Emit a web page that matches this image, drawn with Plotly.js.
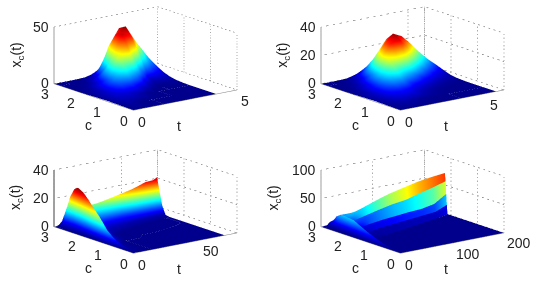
<!DOCTYPE html>
<html><head><meta charset="utf-8">
<script src="https://cdn.plot.ly/plotly-3.0.1.min.js"></script>
<style>html,body{margin:0;padding:0;background:#fff;width:541px;height:286px;overflow:hidden}#g{position:absolute;left:-250px;top:-250px;width:1041px;height:786px}</style>
</head><body><div id="g"></div>
<script>
const c1=[0,.5,1,1.25,1.5,1.75,2,2.25,2.5,2.75,3];
const t1=[0,.5,1,1.5,2,2.5,3,3.5,4];
const z1ByT=[
[.1,.4,.6,.5,.4,.2,.1,0,0,0,0],
[.2,1.3,3.3,3.6,3,2,1,.4,.1,0,0],
[0,.1,3.8,9,12,10,5.9,2.4,.7,.2,0],
[0,0,2.1,9,21,28,23.5,13.7,5.6,1.7,.4],
[0,0,.4,3.4,14.4,33.8,45,42,30,11,2.7],
[0,0,0,.5,3.6,15.2,40,47.5,44,24,9.5],
[0,0,0,0,.4,2.8,16,32,37,31,18],
[0,0,0,.2,.8,3,8.1,16.2,24.3,26.8,20],
[0,0,0,.2,.7,1.8,4,7.4,11,13.2,13]];
const c2=c1;
const t2=[0,.5,1,1.5,2,2.5,3,3.5,4,4.5,5,5.5];
const z2ByT=[
[.1,.3,.5,.4,.3,.2,.1,0,0,0,0],
[.1,.8,1.8,2,1.7,1.1,.6,.2,.1,0,0],
[.1,1.2,4.4,5.7,5.9,4.7,2.9,1.4,.5,.2,0],
[0,.8,5.2,8.7,11.5,11.8,9.4,5.8,2.8,1.1,.3],
[0,.4,4.2,9,15.2,20,20.6,16.4,10.2,5,1.9],
[0,.2,2.4,5.5,12,21,28.9,26.7,19.3,10.9,4.8],
[0,.1,1.2,3.5,9,19,30.4,32.8,27.5,18,9.2],
[0,0,.5,2,5.5,13,23,29.8,27.6,20,11.3],
[0,0,.2,1,3.2,8,15.5,23.4,24,19,11.9],
[0,0,.1,.5,1.6,4.5,9.5,16.3,18,15.5,10.4],
[0,0,.1,.2,1,2.4,5.5,10,11.9,11,8],
[0,0,0,.1,.4,1.2,2.9,4.7,5.9,5.7,4.4]];
const t3=[0,2,4,6,8,10,12,14,16,20,25,30,40,50,60,65,68];
const c3ByT=[
[0,.2,.4,.5,.6,.7,.8,1.2,1.6,2.2,3],
[0,.2,.4,.5,.6,.7,.8,1,1.3,1.7,3],
[0,.4,.7,.9,1,1.15,1.3,1.5,1.8,2.2,3],
[0,.7,1,1.2,1.35,1.5,1.67,1.85,2.1,2.5,3],
[0,.8,1.15,1.35,1.5,1.7,1.9,2.1,2.4,2.7,3],
[0,.9,1.3,1.55,1.75,2,2.2,2.4,2.6,2.8,3],
[0,1,1.4,1.7,1.95,2.2,2.5,2.65,2.8,2.9,3],
[0,1,1.5,1.8,2.1,2.4,2.78,2.85,2.9,2.95,3],
[0,1,1.55,1.9,2.2,2.5,2.82,2.87,2.92,2.96,3],
[0,1,1.6,2,2.3,2.5,2.72,2.8,2.87,2.93,3],
[0,1,1.7,2.05,2.3,2.5,2.7,2.77,2.85,2.92,3],
[0,1.2,1.75,2.1,2.35,2.5,2.68,2.76,2.84,2.92,3],
[0,1.2,1.85,2.15,2.38,2.52,2.64,2.72,2.8,2.9,3],
[0,1.3,1.95,2.2,2.38,2.5,2.61,2.7,2.78,2.88,3],
[0,1.4,2,2.24,2.38,2.49,2.58,2.67,2.75,2.85,3],
[0,1.5,2.05,2.26,2.38,2.48,2.56,2.65,2.73,2.83,3],
[0,1.5,2.1,2.24,2.36,2.46,2.56,2.64,2.72,2.82,3]];
const z3ByT=[
[0,0,0,0,0,0,0,0,0,0,0],
[.3,.5,1,1.5,2,2.6,3,2.4,1,.3,0],
[.1,.5,1.5,3,5,7.2,9,7,3.5,1.5,1],
[0,.5,2,4.5,7.5,11,14,11.5,7,3.5,3],
[0,.3,2,5,9,14,18,15.5,10.5,8.5,8],
[0,.2,2,6,11,17,22,20,17,15,13],
[0,.1,1.5,5,11,18,25,24.5,23,21,19],
[0,0,1,4,9.5,18,26,25.8,25,24,22],
[0,0,.5,2.5,7.5,15,23.5,23.3,22.8,22,21],
[0,0,.1,1.5,4.2,8,13,12.5,10.5,8.5,7],
[0,0,.1,1.2,3.5,8,13.5,12.5,9,6,4],
[0,0,.1,1.2,4.2,8.5,14.5,12,8,4.5,2],
[0,0,.1,1,4.5,10,17,14.5,10,4,1],
[0,0,.1,1,5,12,19.5,16,8,3,.5],
[0,0,.05,1,5.5,13.5,23,14,7,2,.2],
[0,0,0,1,6,14,23.5,13,5,1,.1],
[0,0,0,.5,6,15,25,12,4,1,0]];
const t4=[0,4,8,12,16,20,25,30,50,75,100,125,150,175,200];
const c4ByT=[
[0,.2,.4,.6,.8,1,1.2,1.5,2,3],
[0,.2,.4,.6,.8,.93,1.1,1.4,1.9,3],
[0,.6,.85,1.05,1.3,1.53,1.7,2,2.5,3],
[0,.9,1.25,1.5,1.8,2,2.3,2.6,2.85,3],
[0,1,1.5,1.8,2.1,2.53,2.7,2.85,2.95,3],
[0,1.2,1.6,1.95,2.25,2.53,2.7,2.85,2.95,3],
[0,1.3,1.75,2.05,2.3,2.52,2.7,2.85,2.95,3],
[0,1.4,1.8,2.1,2.35,2.5,2.7,2.85,2.95,3],
[0,1.5,1.9,2.12,2.32,2.45,2.6,2.8,2.95,3],
[0,1.6,1.95,2.12,2.3,2.4,2.5,2.62,2.85,3],
[0,1.7,1.98,2.12,2.27,2.35,2.43,2.53,2.7,3],
[0,1.8,2.02,2.13,2.24,2.3,2.37,2.46,2.6,3],
[0,1.9,2.06,2.14,2.22,2.27,2.33,2.42,2.55,3],
[0,2,2.1,2.15,2.21,2.25,2.3,2.38,2.5,3],
[0,2.13,2.155,2.18,2.2,2.23,2.28,2.35,2.45,3]];
const z4ByT=[
[0,0,0,0,0,0,0,0,0,0],
[.3,1,1.6,2.6,3.9,4.7,3.4,1.7,.5,0],
[0,.5,3.5,7.5,12,15,10.5,5.2,1.3,.4],
[0,.3,5,12,20,25,20,12,3.5,1],
[0,.1,3,9,16.5,25.5,20,11,7,5],
[0,.1,2,7,15,23.5,19,11,7.5,6],
[0,.1,2.5,7,14.5,22.5,20.5,15,10,8],
[0,.1,3,7,15.5,24,21.5,18,14.5,13],
[0,.1,4,10,21,32,24,14,6,5],
[0,.1,5,13,27,42,30,14,2,.3],
[0,.1,6,15,33,51,36,18,4,0],
[0,.1,7,17,37,58,41,20,5,0],
[0,.1,8,18,44,64,45,22,6,0],
[0,.1,9,22,50,68,48,24,7,0],
[0,.1,16,35,57,71,50,25,7,0]];
const tTicks=[[0,5],[0,5],[0,50],[0,100,200]];
const cTicks=[0,1,2,3];
const zTicks=[[0,50],[0,20,40],[0,20,40],[0,50,100]];
const tMax=[5,5.95,77,200];
const zMax=[50,40,40,100];
const cMaxColor=[48,33.5,26.5,78];
const zTitle='x<sub>c</sub>(t)';

const jet=[[0,'rgb(0,0,140)'],[.125,'rgb(0,0,255)'],[.375,'rgb(0,255,255)'],[.625,'rgb(255,255,0)'],[.875,'rgb(255,0,0)'],[1,'rgb(128,0,0)']];
const panels=[
 {c:t1.map(()=>c1),t:t1,z:z1ByT,cx:145,cy:58},
 {c:t2.map(()=>c2),t:t2,z:z2ByT,cx:412.3,cy:58},
 {c:c3ByT,t:t3,z:z3ByT,cx:145.5,cy:201},
 {c:c4ByT,t:t4,z:z4ByT,cx:412,cy:201,strips:true}];
const K=1;
const PW=1041,PH=786,OFF=250;
const eye={x:-.589*K,y:-.767*K,z:.256*K};
const tickShift=[{t:[9,12]},{t:[7,12]},{t:[10,11]},{t:[16,11]}];
const zTitleShift=[-37,-38,-38,-47];
const axisColor=['#808080','#808080','#000','#808080'];
const traces=[],layout={margin:{l:0,r:0,t:0,b:0},width:PW,height:PH,paper_bgcolor:'#fff',showlegend:false};
panels.forEach((p,i)=>{
 const id=i?'scene'+(i+1):'scene';
 const T=tMax[i],Z=zMax[i];
 const n=p.z[0].length;
 let rows=[];
 if(p.strips){
  for(let r=0;r<n-1;r++){rows.push([r,r,r+1]);rows.push([r+1,r,r+1]);}
 }else{
  for(let r=0;r<n;r++)rows.push([r,r,r]);
 }
 const xx=rows.map(()=>p.t.slice());
 const yy=rows.map(R=>p.c.map(col=>col[R[0]]));
 const zz=rows.map(R=>p.z.map(col=>col[R[0]]));
 const sc=rows.map(R=>p.z.map((col,j)=>p.strips&&p.t[j]<=30?col[R[0]]:(col[R[1]]+col[R[2]])/2));
 traces.push({type:'surface',scene:id,x:xx,y:yy,z:zz,surfacecolor:sc,colorscale:jet,cmin:0,cmax:cMaxColor[i],showscale:false,hoverinfo:'skip',
  lighting:{ambient:1,diffuse:0,specular:0,roughness:1,fresnel:0},contours:{x:{show:false},y:{show:false},z:{show:false}}});
 const gx=[],gy=[],gz=[];
 const seg=(a,b)=>{gx.push(a[0],b[0],null);gy.push(a[1],b[1],null);gz.push(a[2],b[2],null);};
 tTicks[i].forEach(v=>seg([v,3,0],[v,3,Z]));
 if(tTicks[i].indexOf(T)<0) seg([T,3,0],[T,3,Z]);
 cTicks.forEach(v=>seg([T,v,0],[T,v,Z]));
 zTicks[i].forEach(v=>{seg([0,3,v],[T,3,v]);seg([T,3,v],[T,0,v]);});
 traces.push({type:'scatter3d',scene:id,mode:'lines',x:gx,y:gy,z:gz,connectgaps:false,hoverinfo:'skip',line:{color:'#555',width:1,dash:'dot'}});
 traces.push({type:'scatter3d',scene:id,mode:'lines',x:[0,null,T,0,0],y:[3,null,0,0,3],z:[0,null,0,0,0],connectgaps:false,hoverinfo:'skip',line:{color:'#808080',width:1}});
 traces.push({type:'scatter3d',scene:id,mode:'lines',x:[0,0],y:[3,3],z:[0,Z],hoverinfo:'skip',line:{color:axisColor[i],width:1.5}});
 const ann=[];
 const font={family:'Liberation Sans, Arial, sans-serif',size:14,color:'#222'};
 const add=(x,y,z,text,xs,ys,extra)=>ann.push(Object.assign({x,y,z,text:String(text),showarrow:false,xshift:xs,yshift:-ys,font},extra||{}));
 zTicks[i].forEach(v=>add(0,3,v,v,-3,0,{xanchor:'right'}));
 cTicks.forEach(v=>add(0,v,0,v,-9,11));
 tTicks[i].forEach(v=>add(v,0,0,v,v?tickShift[i].t[0]:9,v?tickShift[i].t[1]:12));
 add(0,1.5,0,'c',-5,28);
 add(T/2,0,0,'t',-6,26);
 add(0,3,Z/2,zTitle,zTitleShift[i],0,{textangle:-90});
 const w=261,h=261,cx=p.cx+OFF,cy=p.cy+OFF;
 layout[id]={domain:{x:[(cx-w/2)/PW,(cx+w/2)/PW],y:[1-(cy+h/2)/PH,1-(cy-h/2)/PH]},
  aspectmode:'manual',aspectratio:{x:1,y:1,z:.45},
  camera:{eye,center:{x:0,y:0,z:0},up:{x:0,y:0,z:1},projection:{type:'orthographic'}},
  xaxis:{range:[0,T],visible:false},yaxis:{range:[0,3],visible:false},zaxis:{range:[0,Z],visible:false},
  annotations:ann,bgcolor:'rgba(0,0,0,0)'};
});
Plotly.newPlot('g',traces,layout,{displayModeBar:false});
</script></body></html>
